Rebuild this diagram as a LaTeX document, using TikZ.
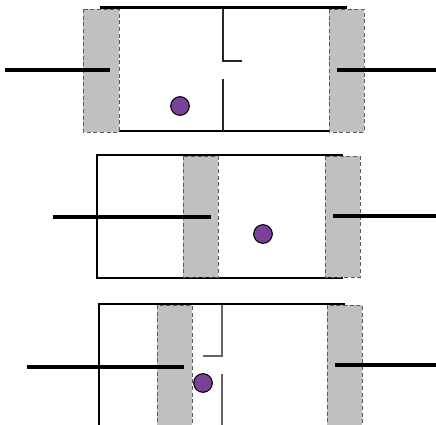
\documentclass[tikz,border=0pt]{standalone}
\usepackage{tikz}

\definecolor{pistongrey}{HTML}{C0C0C0}
\definecolor{dotpurple}{HTML}{7A4199}

\tikzset{
	piston/.style={fill=pistongrey, draw=black!65, densely dashed, line width=0.6pt},
	rod/.style={line width=3.3pt},
	cyl/.style={line width=2.2pt},
	wall/.style={draw=black!60, line width=0.8pt},
	particle/.style={circle, fill=dotpurple, draw=black, line width=0.8pt, inner sep=0pt, minimum size=14pt}
}

\begin{document}
\begin{tikzpicture}[x=0.75pt, y=-0.75pt]
	\clip (0,0) rectangle (436,425);
	% first: both pistons out, partition with a gap
	\draw[cyl] (100,7.5) -- (347,7.5);
	\draw[cyl] (100,131) -- (347,131);
	\draw[wall, draw=black!85] (223,9) -- (223,61) -- (242,61);
	\draw[wall, draw=black!85] (223,79) -- (223,131);
	\draw[piston] (83,9) rectangle (119,132);
	\draw[piston] (329,9) rectangle (364,132);
	\draw[rod] (5,70) -- (110,70);
	\draw[rod] (337,70) -- (436,70);
	\node[particle] (p1) at (180,106) {};
	% second: left piston pushed in, no partition
	\draw[cyl] (343,155) -- (97,155) -- (97,278) -- (343,278);
	\draw[piston] (183,156) rectangle (218,277);
	\draw[piston] (325,156) rectangle (360,277);
	\draw[rod] (53,217) -- (211,217);
	\draw[rod] (333,216) -- (436,216);
	\node[particle] (p2) at (263,234) {};
	% third: left piston up against the partition
	\draw[cyl] (345,304) -- (99,304) -- (99,430);
	\draw[wall] (222,305) -- (222,356) -- (203,356);
	\draw[wall] (222,374) -- (222,430);
	\draw[piston] (157,305) rectangle (192,430);
	\draw[piston] (327,305) rectangle (362,430);
	\draw[rod] (27,367) -- (184,367);
	\draw[rod] (335,365) -- (436,365);
	\node[particle] (p3) at (203,383) {};
\end{tikzpicture}
\end{document}
